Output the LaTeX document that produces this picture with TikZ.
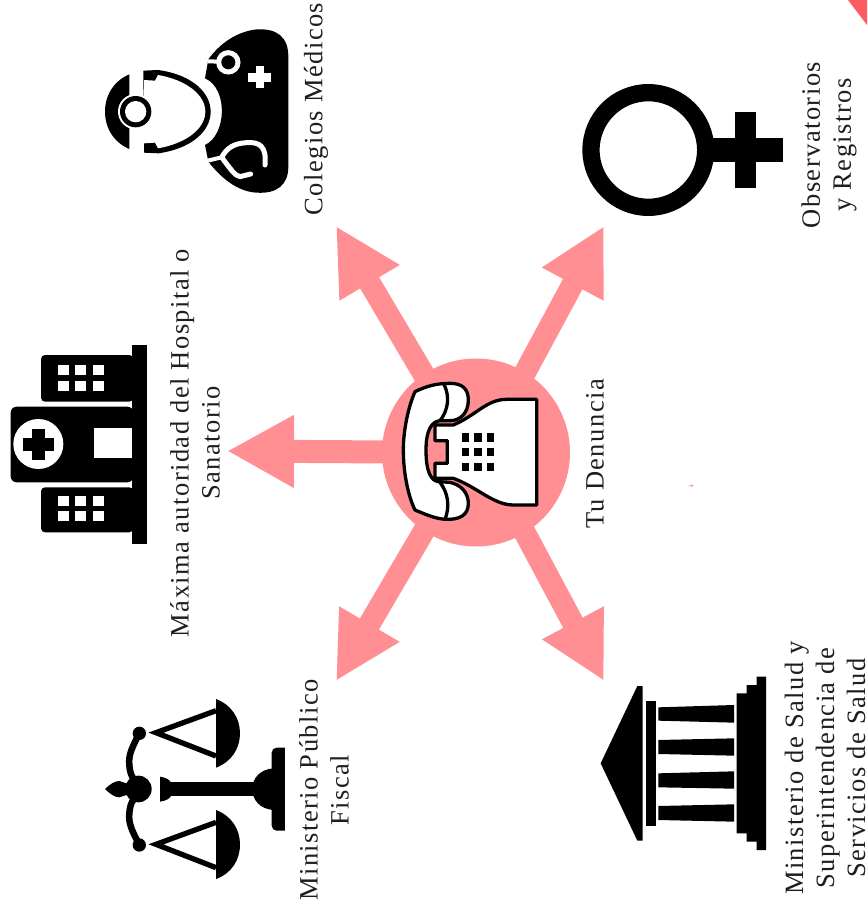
\documentclass[tikz,border=0pt]{standalone}
\usepackage{fontspec}
\setmainfont{Liberation Serif}[LetterSpace=5.5]
\usetikzlibrary{arrows.meta}
\definecolor{pinkish}{HTML}{FF8F92}
\definecolor{redcorner}{HTML}{FF5A5F}
\definecolor{inkish}{HTML}{1E1E1E}
\tikzset{
  label text/.style={rotate=90,align=center,inner sep=0pt,text=inkish,font=\fontsize{26.5}{31}\selectfont},
  big arrow/.style={pinkish,line width=23pt,-{Triangle[length=67pt,width=68pt]}},
  diag arrow/.style={pinkish,line width=22pt,-{Triangle[length=66pt,width=65pt]}},
  zoomed/.style={shift={#1},x=0.33333pt,y=-0.33333pt},
}
\begin{document}
\begin{tikzpicture}[x=1pt,y=-1pt]
\useasboundingbox (0,0) rectangle (867,912);
\fill[white] (0,0) rectangle (867,912);
% decorative fragments
\fill[redcorner] (848,0) -- (867,0) -- (867,25) -- cycle;
\fill[pinkish] (688,486) -- (693,484.5) -- (693,486.5) -- cycle;
% hub and arrows
\node[circle,fill=pinkish,minimum size=188pt,inner sep=0pt] (hub) at (476,452.5) {};
\coordinate (hubL) at (470,452.5);
\coordinate (hubR) at (482,452.5);
\coordinate (tipTL) at (336,226);
\coordinate (tipTR) at (604,226);
\coordinate (tipL) at (227,451);
\coordinate (tipBL) at (336,681);
\coordinate (tipBR) at (604,681);
\draw[diag arrow] (hubL) -- (tipTL);
\draw[diag arrow] (hubR) -- (tipTR);
\draw[big arrow] (hub.center) -- (tipL);
\draw[diag arrow] (hubL) -- (tipBL);
\draw[diag arrow] (hubR) -- (tipBR);
% phone
\begin{scope}[zoomed={(370,350)}]
\draw[fill=white,line width=3.3pt,line join=round]
 (500,148) -- (500,465) -- (430,465) .. controls (370,465) and (320,410) .. (250,385)
 -- (195,385) -- (195,340) -- (232,340) -- (232,272) -- (195,272) -- (195,225) -- (250,225)
 .. controls (320,195) and (350,148) .. (410,148) -- cycle;
\draw[fill=white,line width=3.3pt,line join=round]
 (135,125) .. controls (170,108) and (200,100) .. (240,100)
 .. controls (275,100) and (295,115) .. (295,150)
 .. controls (295,190) and (270,212) .. (240,212) -- (210,212)
 .. controls (185,215) and (168,240) .. (168,300)
 .. controls (168,370) and (185,392) .. (205,395) -- (240,397)
 .. controls (275,405) and (295,430) .. (295,460)
 .. controls (295,495) and (270,510) .. (225,508)
 .. controls (190,505) and (160,490) .. (135,480)
 .. controls (115,440) and (100,370) .. (100,300)
 .. controls (100,240) and (115,170) .. (135,125) -- cycle;
\draw[line width=3.3pt] (222,103) .. controls (240,140) and (235,180) .. (210,212);
\draw[line width=3.3pt] (210,397) .. controls (235,430) and (240,470) .. (225,508);
\foreach \kx in {275,313,351}\foreach \ky in {250,294,338}
  \fill[black] (\kx,\ky) rectangle ++(22,25);
\end{scope}
% doctor
\begin{scope}[zoomed={(80,0)}]
\fill[black] (385,178) .. controls (420,130) and (470,95) .. (530,88)
 .. controls (590,85) and (625,110) .. (625,170) -- (625,500)
 .. controls (625,555) and (590,582) .. (530,578)
 .. controls (470,575) and (420,530) .. (385,485) -- (375,435)
 .. controls (440,405) and (445,265) .. (375,235) -- cycle;
\draw[white,line width=4pt] (383,184) -- (420,185);
\draw[white,line width=5pt] (445,187) circle (29);
\fill[white] (505,220) rectangle (572,245);
\fill[white] (527,198) rectangle (553,265);
\draw[white,line width=5pt,line cap=round,line join=round]
 (555,495) .. controls (560,440) and (540,425) .. (500,428)
 .. controls (460,430) and (440,445) .. (425,472)
 .. controls (450,505) and (465,528) .. (480,530) -- (512,522);
\draw[white,line width=4pt] (383,482) -- (425,472);
\fill[black] (75,335) .. controls (75,270) and (120,220) .. (190,212)
 -- (235,210) .. controls (340,225) and (392,280) .. (392,335)
 .. controls (392,390) and (340,445) .. (235,460) -- (190,458)
 .. controls (120,450) and (75,400) .. (75,335) -- cycle;
\fill[white] (192,240) -- (225,242) -- (234,225) .. controls (320,240) and (376,285) .. (376,335)
 .. controls (376,385) and (320,430) .. (234,445) -- (225,428) -- (192,430) -- cycle;
\fill[white,rounded corners=3pt] (148,212) -- (190,203) -- (192,465) -- (148,458) -- cycle;
\fill[white] (167,335) circle (53);
\fill[black] (167,335) circle (47);
\fill[white] (167,335) circle (32);
\end{scope}
% venus
\begin{scope}[zoomed={(570,0)}]
\draw[line width=17.3pt] (235,450) circle (172);
\fill[black] (425,414) rectangle (640,485);
\fill[black] (495,337) rectangle (558,565);
\end{scope}
% hospital
\begin{scope}[zoomed={(0,340)}]
\fill[black] (397,15) rectangle (440,612);
\fill[black,rounded corners=4pt] (400,45) -- (123,45) -- (123,185) -- (400,185) -- cycle;
\fill[black,rounded corners=4pt] (400,442) -- (123,442) -- (123,577) -- (400,577) -- cycle;
\fill[black,rounded corners=6pt] (400,200) -- (32,200) -- (32,427) -- (400,427) -- cycle;
\foreach \wx in {175,226,279}\foreach \wy in {75,122,467,514}
  \fill[white] (\wx,\wy) rectangle ++(32,30);
\fill[white] (283,265) rectangle (395,355);
\fill[white] (115,312) circle (75);
\fill[black] (68,293) rectangle (162,332);
\fill[black] (97,266) rectangle (134,360);
\end{scope}
% scales
\begin{scope}[zoomed={(90,680)}]
\fill[black,rounded corners=5pt] (600,203) -- (545,203) -- (545,452) -- (600,452) -- cycle;
\fill[white] (585,195) rectangle (610,460);
\fill[black] (550,265) .. controls (510,268) and (487,295) .. (487,327) .. controls (487,360) and (510,387) .. (550,390) -- cycle;
\fill[black] (215,307) rectangle (495,347);
\fill[black] (210,290) .. controls (230,293) and (240,300) .. (245,310) -- (245,345) .. controls (240,355) and (230,362) .. (210,365) -- cycle;
\fill[black] (145,327) circle (40);
\fill[black] (45,327) .. controls (60,312) and (75,303) .. (88,303) -- (125,315) -- (125,340) -- (88,352) .. controls (75,352) and (60,342) .. (45,327) -- cycle;
\draw[line width=6.5pt] (148,160) .. controls (125,205) and (115,225) .. (118,255) .. controls (120,285) and (130,300) .. (145,310);
\draw[line width=6.5pt] (148,495) .. controls (125,450) and (115,430) .. (118,400) .. controls (120,370) and (130,355) .. (145,345);
\fill[black] (148,160) circle (20);
\fill[black] (148,495) circle (20);
\draw[line width=5.3pt,line join=miter] (378,92) -- (198,158) -- (378,228);
\draw[line width=5.3pt,line join=miter] (378,427) -- (198,493) -- (378,563);
\fill[black] (378,57) .. controls (425,75) and (450,115) .. (450,160) .. controls (450,205) and (425,245) .. (378,263) -- cycle;
\fill[black] (378,390) .. controls (425,408) and (450,448) .. (450,493) .. controls (450,540) and (425,580) .. (378,597) -- cycle;
\end{scope}
% temple
\begin{scope}[zoomed={(590,630)}]
\fill[black] (32,400) -- (142,168) -- (158,168) -- (158,632) -- (142,632) -- cycle;
\fill[black] (167,213) rectangle (197,587);
\fill[black] (205,232) -- (432,225) -- (432,278) -- (205,272) -- cycle;
\fill[black] (205,330) -- (432,325) -- (432,377) -- (205,372) -- cycle;
\fill[black] (205,430) -- (432,424) -- (432,476) -- (205,472) -- cycle;
\fill[black] (205,528) -- (432,523) -- (432,575) -- (205,570) -- cycle;
\fill[black] (440,190) -- (470,190) -- (470,165) -- (500,165) -- (500,140) -- (528,140) -- (528,660) -- (500,660) -- (500,635) -- (470,635) -- (470,610) -- (440,610) -- cycle;
\end{scope}
% labels
\node[label text] (colegios) at (316,109) {Colegios Médicos};
\node[label text] (observ) at (829,145) {Observatorios\\y Registros};
\node[label text] (maxima) at (195,443) {Máxima autoridad del Hospital o\\Sanatorio};
\node[label text] (tu) at (595,454) {Tu Denuncia};
\node[label text] (publico) at (324,790) {Ministerio Público\\Fiscal};
\node[label text] (salud) at (825,768) {Ministerio de Salud y\\Superintendencia de\\Servicios de Salud};
\end{tikzpicture}
\end{document}
